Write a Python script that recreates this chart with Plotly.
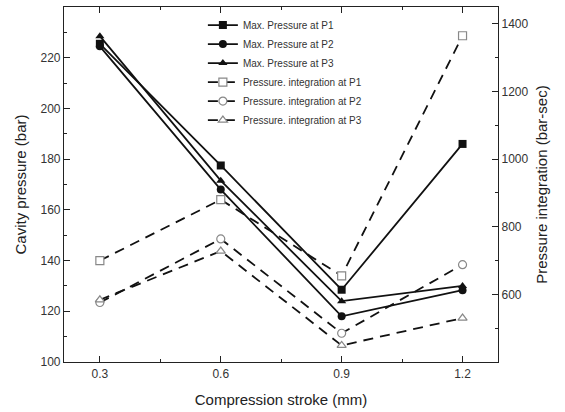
import plotly.graph_objects as go

stroke = [0.3, 0.6, 0.9, 1.2]
max_p1 = [225.5, 177.5, 128.5, 186]
max_p2 = [224.5, 168, 118, 128.3]
max_p3 = [228.5, 171.5, 124, 130]
int_p1 = [700, 880, 655, 1365]
int_p2 = [576, 764, 485, 688]
int_p3 = [584, 728, 449, 530]

names_max = ["Max. Pressure at P1", "Max. Pressure at P2", "Max. Pressure at P3"]
names_int = ["Pressure. integration at P1", "Pressure. integration at P2", "Pressure. integration at P3"]
symbols = ["square", "circle", "triangle-up"]

fig = go.Figure()
for name, ys, sym in zip(names_max, [max_p1, max_p2, max_p3], symbols):
    fig.add_trace(go.Scatter(
        x=stroke, y=ys, name=name, mode="lines+markers",
        line=dict(color="#111111", width=1.8),
        marker=dict(symbol=sym, size=8, color="#111111"),
        yaxis="y"))
for name, ys, sym in zip(names_int, [int_p1, int_p2, int_p3], symbols):
    fig.add_trace(go.Scatter(
        x=stroke, y=ys, name=name, mode="lines+markers",
        line=dict(color="#111111", width=1.8, dash="10px,7px"),
        marker=dict(symbol=sym, size=8, color="white",
                    line=dict(color="#888888", width=1.2)),
        yaxis="y2"))

axfont = dict(family="Liberation Sans, Arial, sans-serif", size=12, color="#333333")
titlefont = dict(family="Liberation Sans, Arial, sans-serif", size=15, color="#222222")

fig.update_layout(
    width=565, height=412,
    margin=dict(l=64, r=67, t=7, b=50),
    paper_bgcolor="white", plot_bgcolor="white",
    showlegend=True,
    legend=dict(x=0.32, y=0.99, xanchor="left", yanchor="top",
                bgcolor="rgba(0,0,0,0)", borderwidth=0,
                font=dict(family="Liberation Sans, Arial, sans-serif", size=10, color="#333333"),
                tracegroupgap=0, itemwidth=30),
    xaxis=dict(range=[0.211, 1.288], tickvals=[0.3, 0.6, 0.9, 1.2],
               ticktext=["0.3", "0.6", "0.9", "1.2"],
               ticks="inside", ticklen=6, tickwidth=1.2, tickcolor="#222",
               minor=dict(tickvals=[0.45, 0.75, 1.05], ticks="inside", ticklen=3, tickcolor="#222"),
               showline=True, linecolor="#222", linewidth=1.2, mirror="ticks",
               showgrid=False, zeroline=False, tickfont=axfont,
               title=dict(text="Compression stroke (mm)", font=titlefont, standoff=14)),
    yaxis=dict(range=[100, 240], tickvals=[100, 120, 140, 160, 180, 200, 220],
               ticks="inside", ticklen=6, tickwidth=1.2, tickcolor="#222",
               minor=dict(tickvals=[110, 130, 150, 170, 190, 210, 230], ticks="inside", ticklen=3, tickcolor="#222"),
               showline=True, linecolor="#222", linewidth=1.2,
               showgrid=False, zeroline=False, tickfont=axfont,
               title=dict(text="Cavity pressure (bar)", font=titlefont, standoff=10)),
    yaxis2=dict(range=[400, 1450], tickvals=[600, 800, 1000, 1200, 1400],
                overlaying="y", side="right", anchor="x",
                ticks="inside", ticklen=6, tickwidth=1.2, tickcolor="#222",
                minor=dict(tickvals=[500, 700, 900, 1100, 1300], ticks="inside", ticklen=3, tickcolor="#222"),
                showline=True, linecolor="#222", linewidth=1.2,
                showgrid=False, zeroline=False, tickfont=axfont,
                title=dict(text="Pressure integration (bar-sec)", font=titlefont, standoff=8)),
)

fig.write_html("out.html")
